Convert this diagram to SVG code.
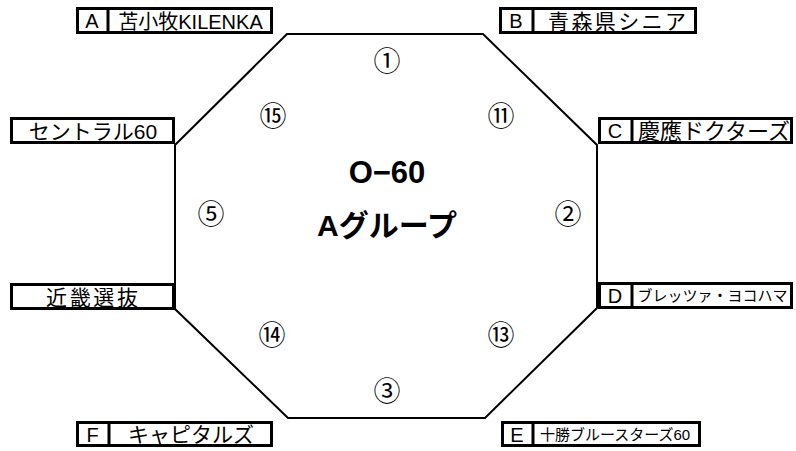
<svg xmlns="http://www.w3.org/2000/svg" width="796" height="451" viewBox="0 0 796 451">
<style>
.box{fill:#fff;stroke:#000;stroke-width:3}
.div{stroke:#000;stroke-width:3}
.oct{fill:none;stroke:#000;stroke-width:2}
.t{font-family:"Liberation Sans","Noto Sans CJK JP",sans-serif;fill:#000;text-anchor:middle}
.n{font-family:"Noto Sans CJK JP",sans-serif;font-size:27px;fill:#000;text-anchor:middle}
.c{font-family:"Liberation Sans","Noto Sans CJK JP",sans-serif;font-weight:bold;fill:#000;text-anchor:middle}
</style>
<rect width="796" height="451" fill="#fff"/>
<g id="connectors">
<polygon class="oct" points="287,34 483,34 597,145 597,308 485,418 288,418 175,309 175,145"/>
</g>
<g id="center">
<text class="c" x="387" y="183" font-size="31">O−60</text>
<text class="c" x="387" y="236" font-size="30">Aグループ</text>
</g>
<g id="slots">
<text class="n" x="387" y="71">①</text>
<text class="n" x="273" y="126">⑮</text>
<text class="n" x="501" y="126">⑪</text>
<text class="n" x="211" y="224">⑤</text>
<text class="n" x="568" y="224">②</text>
<text class="n" x="272" y="345">⑭</text>
<text class="n" x="501" y="345">⑬</text>
<text class="n" x="387" y="401">③</text>
</g>
<g id="teamA">
<rect class="box" x="77.5" y="8.5" width="194" height="24"/>
<line class="div" x1="108" y1="8" x2="108" y2="33"/>
<text class="t" x="92" y="28" font-size="20">A</text>
<text class="t" x="190.5" y="28.5" font-size="20">苫小牧KILENKA</text>
</g>
<g id="teamB">
<rect class="box" x="500.5" y="8.5" width="195" height="24"/>
<line class="div" x1="533" y1="8" x2="533" y2="33"/>
<text class="t" x="516" y="28" font-size="20">B</text>
<text class="t" x="617" y="29" font-size="21" textLength="138" lengthAdjust="spacing">青森県シニア</text>
</g>
<g id="teamCentral">
<rect class="box" x="11.5" y="118.5" width="162" height="24"/>
<text class="t" x="93" y="138.5" font-size="21">セントラル60</text>
</g>
<g id="teamC">
<rect class="box" x="599.5" y="118.5" width="192" height="24"/>
<line class="div" x1="632" y1="118" x2="632" y2="143"/>
<text class="t" x="615" y="138" font-size="20">C</text>
<text class="t" x="714" y="139" font-size="22">慶應ドクターズ</text>
</g>
<g id="teamKinki">
<rect class="box" x="11.5" y="284.5" width="162" height="24"/>
<text class="t" x="92" y="304.5" font-size="21" textLength="92" lengthAdjust="spacing">近畿選抜</text>
</g>
<g id="teamD">
<rect class="box" x="599.5" y="283.5" width="192" height="24"/>
<line class="div" x1="632" y1="283" x2="632" y2="308"/>
<text class="t" x="615" y="303" font-size="20">D</text>
<text class="t" x="712.5" y="301" font-size="15">ブレッツァ・ヨコハマ</text>
</g>
<g id="teamF">
<rect class="box" x="77.5" y="422.5" width="194" height="23"/>
<line class="div" x1="109" y1="422" x2="109" y2="446"/>
<text class="t" x="92.5" y="441.5" font-size="20">F</text>
<text class="t" x="191" y="442" font-size="21">キャピタルズ</text>
</g>
<g id="teamE">
<rect class="box" x="502.5" y="422.5" width="197" height="23"/>
<line class="div" x1="533" y1="422" x2="533" y2="446"/>
<text class="t" x="517" y="441.5" font-size="20">E</text>
<text class="t" x="615" y="439.5" font-size="15">十勝ブルースターズ60</text>
</g>
</svg>
